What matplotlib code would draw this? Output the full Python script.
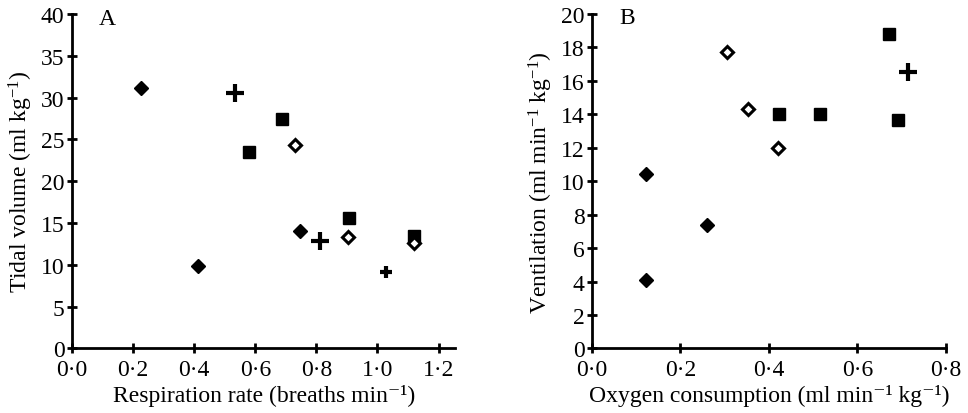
import matplotlib
matplotlib.use("Agg")
import matplotlib.pyplot as plt

plt.rcParams['font.family'] = ['Liberation Serif', 'DejaVu Serif']
plt.rcParams['mathtext.fontset'] = 'custom'
plt.rcParams['mathtext.rm'] = 'Liberation Serif'
plt.rcParams['mathtext.it'] = 'Liberation Serif:italic'

# Panel A: tidal volume vs respiration rate
a_diam_x = [0.226, 0.414, 0.745]
a_diam_y = [31.1, 9.9, 14.1]
a_plus_x = [0.534, 0.813, 1.029]
a_plus_y = [30.5, 12.8, 9.1]
a_sq_x = [0.578, 0.687, 0.906, 1.12]
a_sq_y = [23.5, 27.4, 15.6, 13.4]
a_open_x = [0.731, 0.904, 1.12]
a_open_y = [24.3, 13.3, 12.6]

# Panel B: ventilation vs oxygen consumption
b_diam_x = [0.121, 0.121, 0.261]
b_diam_y = [10.4, 4.1, 7.35]
b_plus_x = [0.715]
b_plus_y = [16.5]
b_sq_x = [0.424, 0.516, 0.672, 0.693]
b_sq_y = [14.0, 14.0, 18.8, 13.65]
b_open_x = [0.306, 0.352, 0.420]
b_open_y = [17.7, 14.3, 12.0]

a_xticks = [0.0, 0.2, 0.4, 0.6, 0.8, 1.0, 1.2]
a_yticks = [0, 5, 10, 15, 20, 25, 30, 35, 40]
b_xticks = [0.0, 0.2, 0.4, 0.6, 0.8]
b_yticks = [0, 2, 4, 6, 8, 10, 12, 14, 16, 18, 20]


def dot(v):
    return '{:.1f}'.format(v).replace('.', '·')


def draw(ax, dx, dy, px, py, sx, sy, ox, oy):
    ax.plot(dx, dy, 'D', color='black', ms=7, ls='none')
    ax.plot(sx, sy, 's', color='black', ms=9, ls='none')
    ax.plot(ox, oy, 'D', mfc='white', mec='black', mew=2.2, ms=6.5, ls='none')
    # the last cross of panel A is printed smaller
    sizes = [13] * len(px)
    if len(px) > 2:
        sizes[-1] = 9
    for x, y, m in zip(px, py, sizes):
        ax.plot(x, y, '+', color='black', ms=m, mew=3, ls='none')
    for s in ['top', 'right']:
        ax.spines[s].set_visible(False)
    for s in ['left', 'bottom']:
        ax.spines[s].set_linewidth(2)
    ax.tick_params(direction='inout', length=7, width=2, labelsize=17)
    ax.tick_params(axis='x', pad=4)
    ax.tick_params(axis='y', pad=2)


def finish(ax):
    for lab in ax.get_yticklabels():
        lab.set_va('center_baseline')


fig = plt.figure(figsize=(9.68, 4.14), dpi=100)
ax1 = fig.add_axes([0.0744, 0.156, 0.396, 0.808])
ax2 = fig.add_axes([0.6116, 0.156, 0.3654, 0.808])

draw(ax1, a_diam_x, a_diam_y, a_plus_x, a_plus_y, a_sq_x, a_sq_y, a_open_x, a_open_y)
ax1.set_xlim(0, 1.255)
ax1.set_ylim(0, 40)
ax1.set_xticks(a_xticks)
ax1.set_xticklabels([dot(v) for v in a_xticks])
ax1.set_yticks(a_yticks)
finish(ax1)
ax1.set_xlabel('Respiration rate (breaths min⁻¹)', fontsize=17, labelpad=3)
ax1.set_ylabel(r'Tidal volume (ml kg$^{-1}$)', fontsize=17, labelpad=4)
ax1.text(0.091, 0.985, 'A', transform=ax1.transAxes, fontsize=17, va='center', ha='center')

draw(ax2, b_diam_x, b_diam_y, b_plus_x, b_plus_y, b_sq_x, b_sq_y, b_open_x, b_open_y)
ax2.set_xlim(0, 0.8)
ax2.set_ylim(0, 20)
ax2.set_xticks(b_xticks)
ax2.set_xticklabels([dot(v) for v in b_xticks])
ax2.set_yticks(b_yticks)
finish(ax2)
ax2.set_xlabel('Oxygen consumption (ml min⁻¹ kg⁻¹)', fontsize=17, labelpad=3)
ax2.set_ylabel(r'Ventilation (ml min$^{-1}$ kg$^{-1}$)', fontsize=17, labelpad=4)
ax2.text(0.099, 0.99, 'B', transform=ax2.transAxes, fontsize=17, va='center', ha='center')

fig.savefig('out.png', dpi=100)
